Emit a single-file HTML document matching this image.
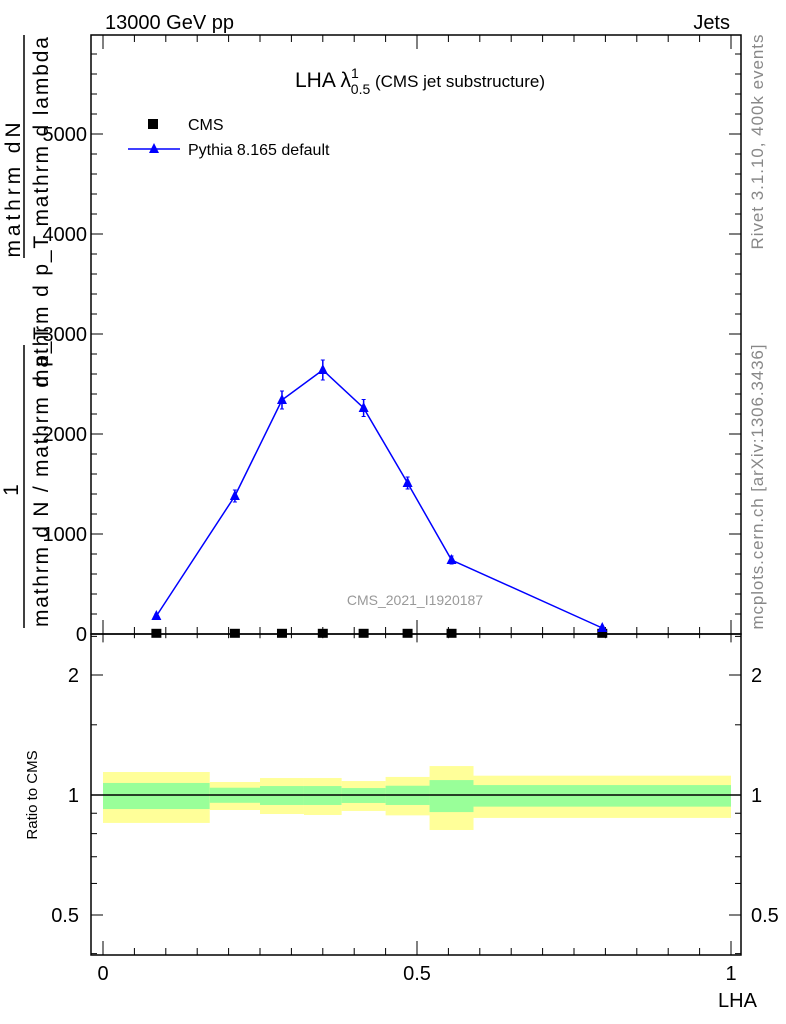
<!DOCTYPE html>
<html><head><meta charset="utf-8"><style>
body{margin:0;background:#fff}
svg{display:block;font-family:"Liberation Sans",sans-serif}
</style></head><body>
<svg id="c" width="786" height="1024" xmlns="http://www.w3.org/2000/svg">
<text x="105" y="29" font-size="20">13000 GeV pp</text>
<text x="730" y="29" font-size="20" text-anchor="end">Jets</text>
<text x="420" y="87" font-size="21" text-anchor="middle">LHA λ<tspan font-size="14" dy="-9">1</tspan><tspan font-size="14" dx="-8" dy="16">0.5</tspan><tspan font-size="17" dy="-7"> (CMS jet substructure)</tspan></text>
<text transform="translate(763,142) rotate(-90)" font-size="17" fill="#888" text-anchor="middle" textLength="215">Rivet 3.1.10,  400k events</text>
<text transform="translate(763,487) rotate(-90)" font-size="17" fill="#888" text-anchor="middle" textLength="285">mcplots.cern.ch [arXiv:1306.3436]</text>
<text x="415" y="605" font-size="14" fill="#999" text-anchor="middle">CMS_2021_I1920187</text>
<g font-size="21">
<text transform="translate(20,190) rotate(-90)" text-anchor="middle" textLength="135">mathrm dN</text>
<line x1="24" y1="35" x2="24" y2="258" stroke="#000" stroke-width="1.5"/>
<text transform="translate(48,212) rotate(-90)" text-anchor="middle" textLength="350">mathrm d p_T mathrm d lambda</text>
<text transform="translate(18,490) rotate(-90)" text-anchor="middle">1</text>
<line x1="24" y1="345" x2="24" y2="628" stroke="#000" stroke-width="1.5"/>
<text transform="translate(48,477) rotate(-90)" text-anchor="middle" textLength="300">mathrm d N / mathrm d p_T</text>
</g>
<text transform="translate(37,795) rotate(-90)" font-size="15" text-anchor="middle">Ratio to CMS</text>
<text x="718" y="1007" font-size="20">LHA</text>
<g id="g"></g>
<g>
<rect x="148" y="119" width="10" height="10" fill="#000"/>
<text x="188" y="130" font-size="16">CMS</text>
<line x1="128" y1="149" x2="180" y2="149" stroke="#00f" stroke-width="1.5"/>
<polygon points="154,143 149,153 159,153" fill="#00f"/>
<text x="188" y="155" font-size="16">Pythia 8.165 default</text>
</g>
</svg>
<script>
const xPoints=[0.085,0.21,0.285,0.35,0.415,0.485,0.555,0.795];
const pythiaVals=[180,1380,2340,2640,2260,1510,740,60];
const pythiaErr=[20,60,90,100,85,60,40,10];
const cmsVals=[2,2,2,2,2,2,2,2];
const binEdges=[0,0.17,0.25,0.32,0.38,0.45,0.52,0.59,1];
const yellowHi=[1.142,1.078,1.103,1.103,1.084,1.11,1.182,1.118];
const yellowLo=[0.851,0.917,0.896,0.891,0.912,0.889,0.817,0.876];
const greenHi=[1.072,1.043,1.053,1.053,1.041,1.055,1.09,1.059];
const greenLo=[0.922,0.956,0.944,0.944,0.955,0.944,0.906,0.935];
const yTicks=[0,1000,2000,3000,4000,5000];
const rTicks=[0.5,1,2];
const xTicks=[0,0.5,1];
const L=91,R=741,T=35,B=634,RB=955;
const X=v=>103+v*628;
const Y=v=>634-v*0.1;
const RY=v=>795-Math.log2(v)*120;
const NS='http://www.w3.org/2000/svg';
const g=document.getElementById('g');
function mk(t,a,p){const e=document.createElementNS(NS,t);for(const k in a)e.setAttribute(k,a[k]);(p||g).appendChild(e);return e;}
for(let i=0;i<yellowHi.length;i++){
 const x0=X(binEdges[i]),x1=X(binEdges[i+1]);
 const y=mk('rect',{x:x0,y:RY(yellowHi[i]),width:x1-x0,height:RY(yellowLo[i])-RY(yellowHi[i]),fill:'#ffff99'});
 
 
 const gr=mk('rect',{x:x0,y:RY(greenHi[i]),width:x1-x0,height:RY(greenLo[i])-RY(greenHi[i]),fill:'#99ff99'});
 
 
}
mk('line',{x1:L,x2:R,y1:RY(1),y2:RY(1),stroke:'#000','stroke-width':1.5});
const f1=mk('rect',{x:L,y:T,width:R-L,height:B-T,fill:'none',stroke:'#000','stroke-width':1.5});


const f2=mk('rect',{x:L,y:B,width:R-L,height:RB-B,fill:'none',stroke:'#000','stroke-width':1.5});


for(let v=0;v<=5800;v+=200){const y=Y(v);const l=v%1000===0?12:6;
 mk('line',{x1:L,x2:L+l,y1:y,y2:y,stroke:'#000'});mk('line',{x1:R,x2:R-l,y1:y,y2:y,stroke:'#000'});}
yTicks.forEach(v=>{const t=mk('text',{x:L-4,y:Y(v)+7,'font-size':20,'text-anchor':'end'});t.textContent=v;
 
 });
[0.4,0.5,0.6,0.7,0.8,0.9,1,1.5,2,2.5].forEach(v=>{const y=RY(v);const l=rTicks.includes(v)?12:6;
 mk('line',{x1:L,x2:L+l,y1:y,y2:y,stroke:'#000'});mk('line',{x1:R,x2:R-l,y1:y,y2:y,stroke:'#000'});});
rTicks.forEach(v=>{[[L-12,'end'],[R+10,'start']].forEach(([x,a])=>{const t=mk('text',{x:x,y:RY(v)+7,'font-size':20,'text-anchor':a});t.textContent=v;
 
 });});
for(let k=0;k<=20;k++){const v=k*0.05;const x=X(v);const l=k%10===0?14:7;
 mk('line',{x1:x,x2:x,y1:B,y2:B-l,stroke:'#000'});mk('line',{x1:x,x2:x,y1:B,y2:B+l*0.6,stroke:'#000'});
 mk('line',{x1:x,x2:x,y1:RB,y2:RB-l,stroke:'#000'});mk('line',{x1:x,x2:x,y1:T,y2:T+l,stroke:'#000'});}
xTicks.forEach(v=>{const t=mk('text',{x:X(v),y:980,'font-size':20,'text-anchor':'middle'});t.textContent=v;
 
 });
xPoints.forEach((v,i)=>{const r=mk('rect',{x:X(v)-5,y:Y(cmsVals[i])-5,width:10,height:9,fill:'#000'});
 
 });
const pl=mk('polyline',{points:xPoints.map((v,i)=>X(v)+','+Y(pythiaVals[i])).join(' '),fill:'none',stroke:'#00f','stroke-width':1.5});


xPoints.forEach((v,i)=>{const x=X(v),y=Y(pythiaVals[i]),e=pythiaErr[i]*0.1;
 mk('line',{x1:x,x2:x,y1:y-e,y2:y+e,stroke:'#00f','stroke-width':1.5});
 mk('line',{x1:x-2,x2:x+2,y1:y-e,y2:y-e,stroke:'#00f'});mk('line',{x1:x-2,x2:x+2,y1:y+e,y2:y+e,stroke:'#00f'});
 const p=mk('polygon',{points:`${x},${y-6} ${x-5},${y+4} ${x+5},${y+4}`,fill:'#00f'});
 
 });
</script>
</body></html>
